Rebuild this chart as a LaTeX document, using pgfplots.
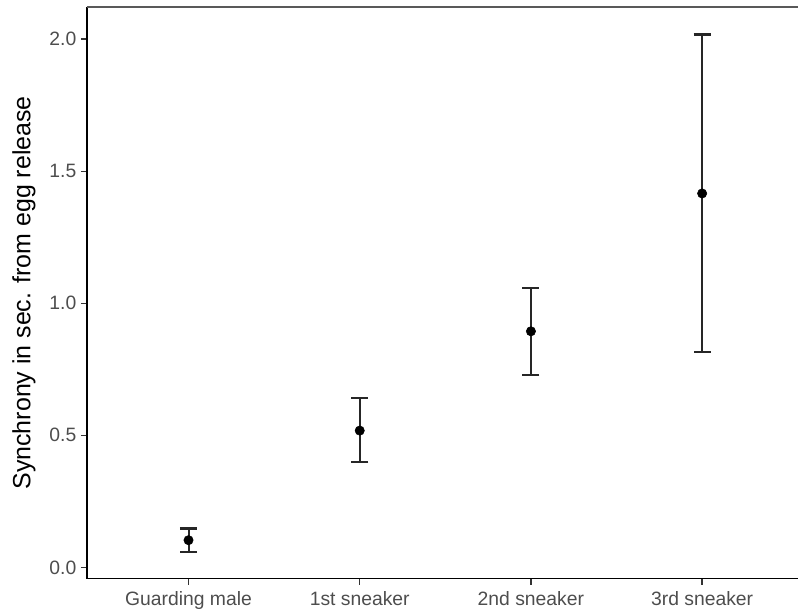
\documentclass[border=0pt]{standalone}
\usepackage{pgfplots}
\pgfplotsset{compat=1.18}
\usepackage{fontspec}
\setmainfont{Liberation Sans}
\definecolor{ticktxt}{HTML}{4D4D4D}
\definecolor{barcol}{HTML}{262626}
\begin{document}
\begin{tikzpicture}
\begin{axis}[
  scale only axis,
  at={(0,0)}, anchor=south west,
  width=533.25pt, height=428.8pt,
  xmin=0.407, xmax=4.56,
  ymin=-0.043, ymax=2.122,
  axis x line*=bottom, axis y line*=left,
  axis line style={black, line width=1.1pt, -},
  xtick={1,2,3,4},
  xticklabels={Guarding male,1st sneaker,2nd sneaker,3rd sneaker},
  ytick={0,0.5,1,1.5,2},
  /pgf/number format/assume math mode=true,
  yticklabel style={/pgf/number format/fixed, /pgf/number format/fixed zerofill, /pgf/number format/precision=1},
  tick label style={font=\fontsize{14.5}{17}\selectfont, text=ticktxt},
  xticklabel style={yshift=-1.5pt},
  tick align=outside,
  major tick length=4.5pt,
  tick style={black!80, line width=1.1pt},
  ylabel={Synchrony in sec. from egg release},
  ylabel style={font=\fontsize{18.7}{22}\selectfont, at={(axis description cs:-0.0886,0.5)}, anchor=center, rotate=0},
  clip=false,
]
\addplot[only marks, mark=*, mark size=3.5pt, black,
  error bars/.cd, y dir=both, y explicit,
  error mark=|,
  error bar style={barcol, line width=1.5pt},
  error mark options={barcol, line width=1.6pt, mark size=6.4pt}]
coordinates {
  (1,0.103) += (0,0.044) -= (0,0.045)
  (2,0.518) += (0,0.122) -= (0,0.119)
  (3,0.894) += (0,0.165) -= (0,0.166)
  (4,1.416) += (0,0.602) -= (0,0.600)
};
\draw[black!65, line width=0.8pt] (rel axis cs:0,1) -- (rel axis cs:1,1);
\end{axis}
\pgfresetboundingbox
\path (-65.25pt,-27.2pt) rectangle (533.25pt,434.05pt);
\end{tikzpicture}
\end{document}
